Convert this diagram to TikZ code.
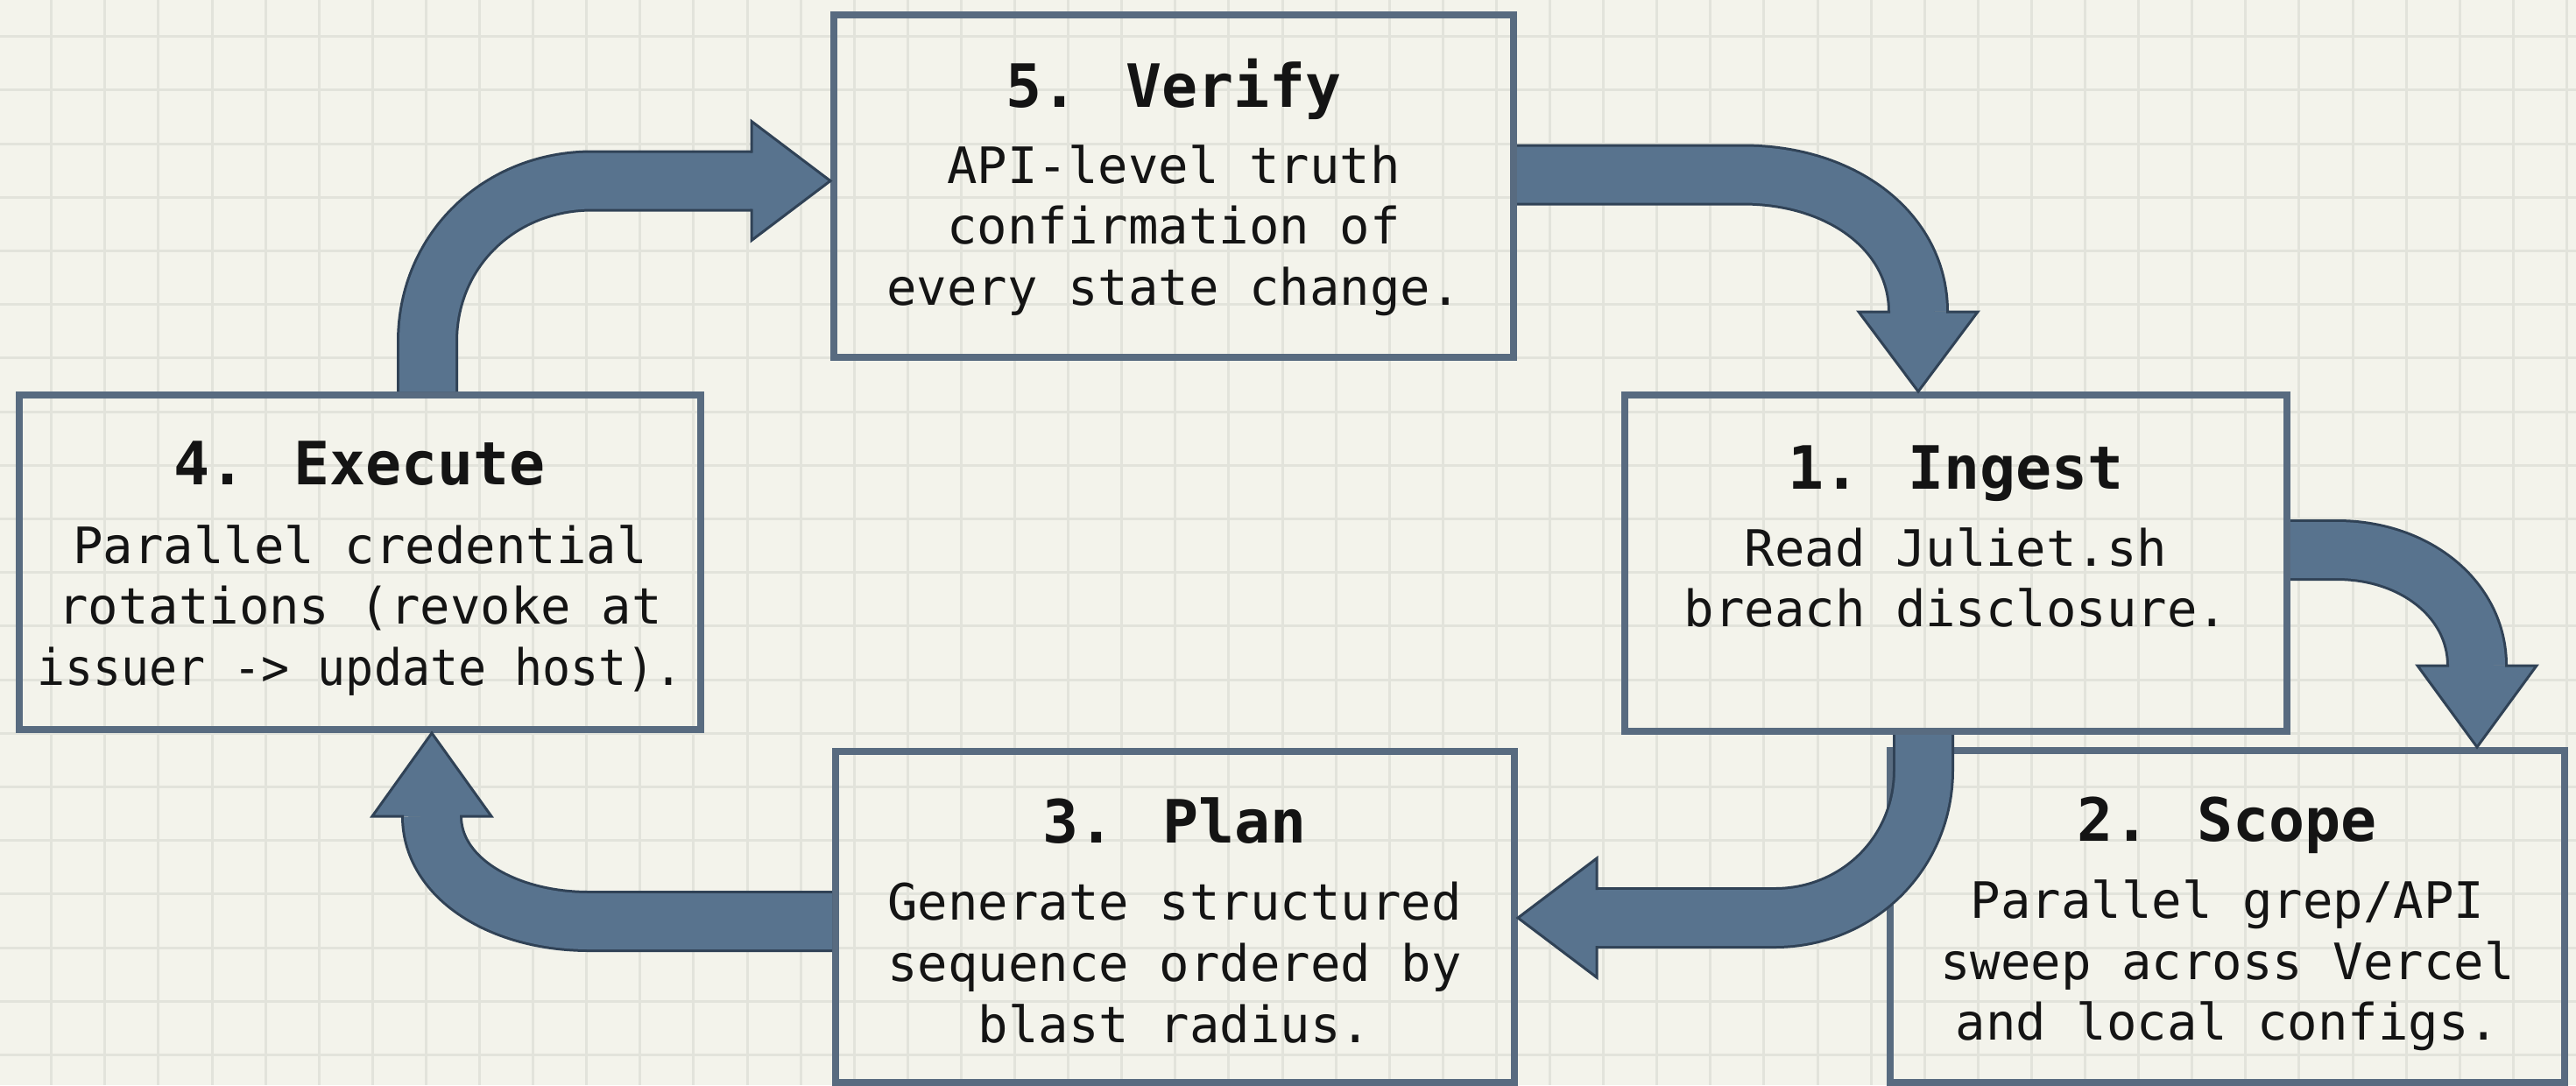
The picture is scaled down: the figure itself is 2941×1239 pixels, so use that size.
\documentclass[tikz,border=0pt]{standalone}
\usepackage{fontspec}
\usepackage{graphicx}
\usetikzlibrary{calc}

\newfontfamily\stepmono{DejaVu Sans Mono}

\definecolor{paper}{RGB}{243,243,235}
\definecolor{gridc}{RGB}{226,227,219}
\definecolor{boxline}{RGB}{88,107,128}
\definecolor{arrowfill}{RGB}{88,115,142}
\definecolor{arrowedge}{RGB}{48,66,86}
\definecolor{inkc}{RGB}{20,20,20}

\tikzset{
  gridline/.style={draw=gridc, line width=0.3mm},
  stepbox/.style={draw=boxline, line width=0.8mm, inner sep=0pt},
  steptitle/.style={font=\stepmono\bfseries\fontsize{19.4}{23}\selectfont, text=inkc, anchor=base, inner sep=0pt},
  stepbody/.style={font=\stepmono\fontsize{16.3}{19.9}\selectfont, text=inkc, align=center, anchor=north, inner sep=0pt},
  shaft/.style={draw=arrowfill, line width=6.4mm, preaction={draw=arrowedge, line width=7mm}},
  arrowhead/.style={fill=arrowfill, draw=arrowedge, line width=0.3mm, line join=miter},
}

\begin{document}
\begin{tikzpicture}[x=0.1mm, y=-0.1mm]
      \useasboundingbox (0,0) rectangle (2941,1239);
      \clip (0,0) rectangle (2941,1239);
      \fill[paper] (0,0) rectangle (2941,1239);

      % GRID
      \foreach \i in {0,...,48}
        \draw[gridline] ({-2.4+61.1*\i},0) -- ++(0,1239);
      \foreach \j in {0,...,20}
        \draw[gridline] (0,{-19.5+61.2*\j}) -- ++(2941,0);

      % BOXES
      \node[stepbox, minimum width=77.6mm, minimum height=39.1mm] (verify) at (1340,212.5) {};
      \node[stepbox, minimum width=75.6mm, minimum height=38.4mm] (ingest) at (2233,643) {};
      \node[stepbox, minimum width=77.0mm, minimum height=37.9mm] (scope)  at (2543,1046.5) {};
      \node[stepbox, minimum width=77.5mm, minimum height=37.8mm] (plan)   at (1341.5,1047) {};
      \node[stepbox, minimum width=77.8mm, minimum height=38.2mm] (exec)   at (411,642) {};

      % TEXT
      \node[steptitle] (verifyt) at (1340,122) {5. Verify};
      \node[stepbody]  (verifyb) at (1340,164.5) {API-level truth\\confirmation of\\every state change.};

      \node[steptitle] (ingestt) at (2233,558) {1. Ingest};
      \node[stepbody]  (ingestb) at (2233,601.5) {Read Juliet.sh\\breach disclosure.};

      \node[steptitle] (scopet) at (2543,960) {2. Scope};
      \node[stepbody]  (scopeb) at (2543,1003.5) {Parallel grep/API\\sweep across Vercel\\and local configs.};

      \node[steptitle] (plant) at (1341,962) {3. Plan};
      \node[stepbody]  (planb) at (1341,1006.5) {Generate structured\\sequence ordered by\\blast radius.};

      \node[steptitle] (exect) at (411,553) {4. Execute};
      \node[stepbody]  (execb) at (411,598.5) {Parallel credential\\rotations (revoke at\\\scalebox{0.93}[1]{issuer -> update host).}};

      % ARROWS
      % execute -> verify
      \coordinate (s1) at ($(exec.north)+(77,0)$);
      \coordinate (t1) at ($(verify.west)+(0,-6)$);
      \coordinate (b1) at ($(t1)+(-90,0)$);
      \draw[shaft] (s1) -- ++(0,-57) .. controls +(0,-105) and +(-105,0) .. ($(b1)+(-182,0)$) -- (b1);
      \filldraw[arrowhead] ($(b1)+(0,-32)$) -- ($(b1)+(0,-68)$) -- (t1) -- ($(b1)+(0,68)$) -- ($(b1)+(0,32)$);

      % verify -> ingest
      \coordinate (s2) at ($(verify.east)+(0,-13)$);
      \coordinate (t2) at ($(ingest.north)+(-43,0)$);
      \coordinate (b2) at ($(t2)+(0,-91)$);
      \draw[shaft] (s2) -- ($(s2 -| b2)+(-200,0)$) .. controls +(115,0) and +(0,-90) .. (b2);
      \filldraw[arrowhead] ($(b2)+(-32,0)$) -- ($(b2)+(-68,0)$) -- (t2) -- ($(b2)+(68,0)$) -- ($(b2)+(32,0)$);

      % ingest -> scope
      \coordinate (s3) at ($(ingest.east)+(0,-15)$);
      \coordinate (t3) at ($(scope.north)+(285,0)$);
      \coordinate (b3) at ($(t3)+(0,-93)$);
      \draw[shaft] (s3) -- ($(s3 -| b3)+(-160,0)$) .. controls +(90,0) and +(0,-75) .. (b3);
      \filldraw[arrowhead] ($(b3)+(-32,0)$) -- ($(b3)+(-68,0)$) -- (t3) -- ($(b3)+(68,0)$) -- ($(b3)+(32,0)$);

      % ingest -> plan
      \coordinate (s4) at ($(ingest.south)+(-37,0)$);
      \coordinate (t4) at ($(plan.east)+(0,1)$);
      \coordinate (b4) at ($(t4)+(90,0)$);
      \draw[shaft] (s4) -- ++(0,40) .. controls +(0,95) and +(95,0) .. ($(b4 -| s4)+(-170,0)$) -- (b4);
      \filldraw[arrowhead] ($(b4)+(0,-32)$) -- ($(b4)+(0,-68)$) -- (t4) -- ($(b4)+(0,68)$) -- ($(b4)+(0,32)$);

      % plan -> execute
      \coordinate (s5) at ($(plan.west)+(0,5)$);
      \coordinate (t5) at ($(exec.south)+(82,0)$);
      \coordinate (b5) at ($(t5)+(0,95)$);
      \draw[shaft] (s5) -- ($(s5 -| b5)+(180,0)$) .. controls +(-100,0) and +(0,70) .. (b5);
      \filldraw[arrowhead] ($(b5)+(-32,0)$) -- ($(b5)+(-68,0)$) -- (t5) -- ($(b5)+(68,0)$) -- ($(b5)+(32,0)$);

\end{tikzpicture}
\end{document}
